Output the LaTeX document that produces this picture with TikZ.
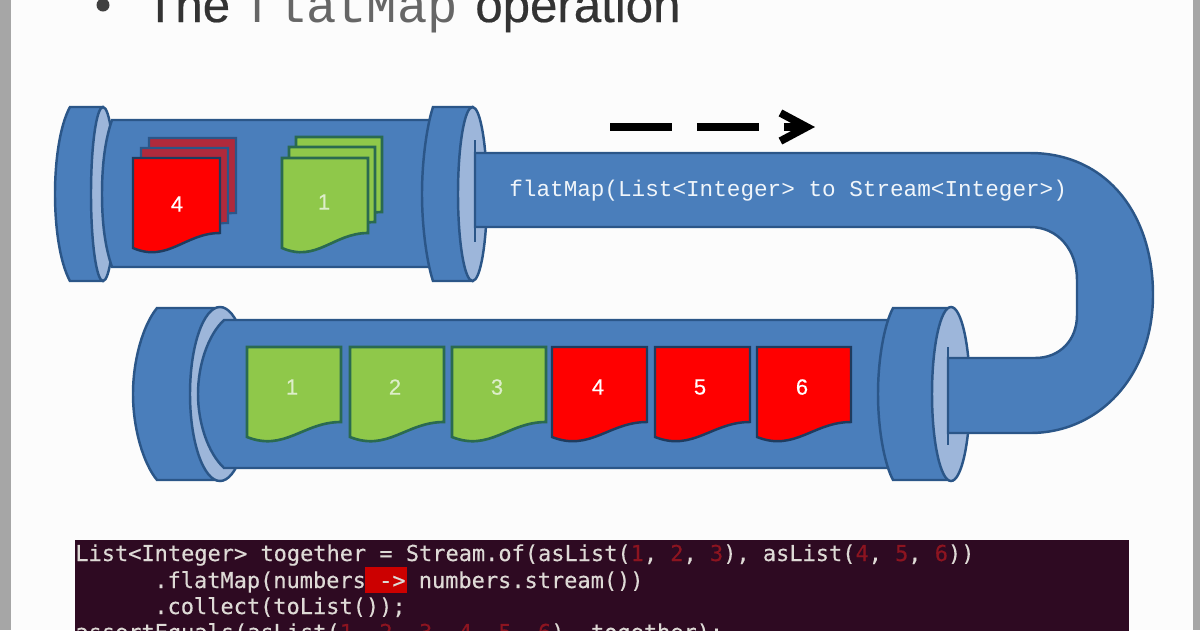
\documentclass[tikz,border=0pt]{standalone}
\usepackage{fontspec}
\setmainfont{Liberation Sans}
\setmonofont{Liberation Mono}
\newfontfamily\titlefont{Liberation Sans}[FakeBold=0.4]
\newfontfamily\termfont{DejaVu Sans Mono}[FakeBold=0.3]
\usetikzlibrary{arrows.meta}
\definecolor{pipefill}{HTML}{4A7EBB}
\definecolor{pipeedge}{HTML}{2B5688}
\definecolor{facefill}{HTML}{9DB6DA}
\definecolor{greenfill}{HTML}{8FC84A}
\definecolor{greenedge}{HTML}{2A6A50}
\definecolor{redback}{HTML}{B02A3C}
\definecolor{termback}{HTML}{2E0A22}
\definecolor{termtext}{HTML}{DEDAD6}
\definecolor{termred}{HTML}{8C1420}
\tikzset{
  pipe/.style = {draw = pipeedge, fill = pipefill, line width = 1.4pt},
  face/.style = {draw = pipeedge, fill = facefill, line width = 1.4pt},
  slit/.style = {draw = pipeedge, line width = 1.5pt},
  redpage/.style = {draw = pipeedge!70!black, fill = red, line width = 1.4pt},
  backpage/.style = {draw = pipeedge, fill = redback, line width = 1.2pt},
  greenpage/.style = {draw = greenedge, fill = greenfill, line width = 1.5pt},
  pagelabel/.style = {font = \titlefont\fontsize{12.5}{15}\selectfont, inner sep = 0pt},
  titlepart/.style = {anchor = base west, inner sep = 0pt, text = black!80, font = \titlefont\fontsize{28}{32}\selectfont},
  codeline/.style = {anchor = base west, inner sep = 0pt, text = termtext, font = \termfont\fontsize{12.5}{15}\selectfont}
}
% left x, top y, width
\newcommand{\pagesheet}[4]{\draw[#1] (#2, #3) -- ++(#4, 0) -- ++(0, 75) .. controls +(-0.4*#4, 0) and +(0.4*#4, 15) .. ++(-#4, 15) -- cycle;}
\newcommand{\digit}[1]{\textcolor{termred}{#1}}
\begin{document}
\begin{tikzpicture}[x = 0.02cm, y = -0.02cm]
\clip (0, 0) rectangle (1200, 630);
\fill[white!99!black] (0, 0) rectangle (1200, 630);
\fill[black!35] (0, 0) rectangle (11, 630);
\fill[black!35] (1193, 0) rectangle (1200, 630);

% slide title
\fill[black!75] (103, 5) circle (6.5);
\node[titlepart] (titlethe) at (145, 22) {The};
\node[anchor = base west, inner sep = 0pt, text = black!60, font = \ttfamily\fontsize{28.8}{32}\selectfont] (titlemap) at (245, 22) {flatMap};
\node[titlepart] (titleop) at (475, 22) {operation};

% direction arrow
\coordinate (dashstart) at (610, 127);
\coordinate (dashend) at (815, 127);
\draw[line width = 4.4pt, dash pattern = on 35.3pt off 14.2pt, -{Straight Barb[length = 15pt, width = 16pt, line width = 4.4pt]}] (dashstart) -- (dashend);

% top tube
\draw[pipe] (70, 107) .. controls (60, 125) and (55, 160) .. (55, 194) .. controls (55, 228) and (60, 263) .. (70, 281) -- (103, 281) -- (103, 107) -- cycle;
\draw[face] (103, 194) ellipse (12 and 87);
\draw[pipe] (112, 120) .. controls (105, 140) and (102, 165) .. (102, 194) .. controls (102, 223) and (105, 247) .. (112, 267) -- (440, 267) -- (440, 120) -- cycle;
\draw[pipe] (433, 107) -- (473, 107) -- (473, 281) -- (433, 281) .. controls (427, 263) and (422, 228) .. (422, 194) .. controls (422, 160) and (427, 125) .. (433, 107) -- cycle;
\draw[face] (472.5, 194) ellipse (14.5 and 87);

% bottom tube
\draw[pipe] (157, 308) .. controls (143, 325) and (133, 360) .. (133, 394) .. controls (133, 428) and (143, 463) .. (157, 480) -- (220, 480) -- (220, 308) -- cycle;
\draw[face] (220, 394) ellipse (30 and 87);
\draw[pipe] (224, 320) .. controls (208, 335) and (198, 365) .. (198, 394) .. controls (198, 423) and (208, 453) .. (224, 468) -- (895, 468) -- (895, 320) -- cycle;
\draw[pipe] (893, 308) -- (952, 308) -- (952, 480) -- (893, 480) .. controls (884, 463) and (878, 428) .. (878, 394) .. controls (878, 360) and (884, 325) .. (893, 308) -- cycle;
\draw[face] (951, 394) ellipse (19 and 87);

% bent pipe between the tubes
\draw[pipe] (475, 153) -- (1030, 153) .. controls (1105, 153) and (1153, 212) .. (1153, 295) .. controls (1153, 375) and (1100, 433) .. (1030, 433) -- (948, 433) -- (948, 358) -- (1035, 358) .. controls (1060, 358) and (1077, 340) .. (1077, 315) -- (1077, 280) .. controls (1077, 250) and (1058, 227) .. (1030, 227) -- (475, 227) -- cycle;
\draw[slit] (475, 140) -- (475, 242);
\draw[slit] (948, 347) -- (948, 445);
\node[anchor = base west, inner sep = 0pt, text = white!92!pipefill, font = \ttfamily\fontsize{12.9}{15}\selectfont] (maplabel) at (509, 196) {flatMap(List<Integer> to Stream<Integer>)};

% stacked pages in the top tube
\pagesheet{backpage}{149}{138}{87}
\pagesheet{backpage}{141}{148}{87}
\pagesheet{redpage}{133}{158}{87}
\pagesheet{greenpage}{296}{137}{86}
\pagesheet{greenpage}{289}{147}{86}
\pagesheet{greenpage}{282}{158}{86}
\node[pagelabel, text = white] (topfour) at (177, 204) {4};
\node[pagelabel, text = white!70!greenfill] (topone) at (324, 202) {1};

% pages in the bottom tube
\pagesheet{greenpage}{247}{347}{94}
\pagesheet{greenpage}{350}{347}{94}
\pagesheet{greenpage}{452}{347}{94}
\pagesheet{redpage}{552}{347}{95}
\pagesheet{redpage}{655}{347}{95}
\pagesheet{redpage}{757}{347}{94}
\node[pagelabel, text = white!70!greenfill] (pageone) at (292, 387) {1};
\node[pagelabel, text = white!70!greenfill] (pagetwo) at (395, 387) {2};
\node[pagelabel, text = white!70!greenfill] (pagethree) at (497, 387) {3};
\node[pagelabel, text = white] (pagefour) at (598, 387) {4};
\node[pagelabel, text = white] (pagefive) at (700, 387) {5};
\node[pagelabel, text = white] (pagesix) at (802, 387) {6};

% terminal with the code
\fill[termback] (75, 540) rectangle (1129, 640);
\fill[red!80!black] (365, 567) rectangle (407, 593);
\node[codeline] (codeone) at (75, 561) {List<Integer> together = Stream.of(asList(\digit{1}, \digit{2}, \digit{3}), asList(\digit{4}, \digit{5}, \digit{6}))};
\node[codeline] (codetwo) at (154, 588) {.flatMap(numbers -> numbers.stream())};
\node[codeline] (codethree) at (154, 614) {.collect(toList());};
\node[codeline] (codefour) at (75, 640) {assertEquals(asList(\digit{1}, \digit{2}, \digit{3}, \digit{4}, \digit{5}, \digit{6}), together);};
\end{tikzpicture}
\end{document}
